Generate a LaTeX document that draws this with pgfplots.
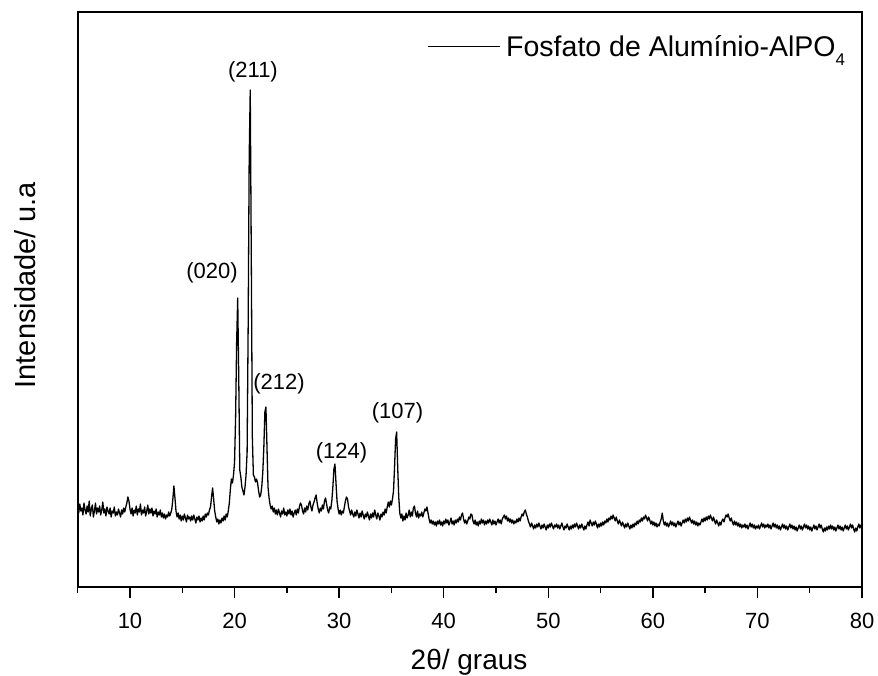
\documentclass[border=0pt]{standalone}
\usepackage{fontspec}
\setmainfont{Liberation Sans}
\usepackage{pgfplots}
\pgfplotsset{compat=1.18}
\usepackage{pgfplotstable}

% X-ray diffractogram of aluminium phosphate (2theta in degrees, intensity in arbitrary units)
\pgfplotstableread{
x y
5.0 80
5.1 74
5.2 83
5.3 76
5.4 79
5.5 72
5.6 84
5.7 77
5.8 73
5.9 81
6.0 75
6.1 86
6.2 71
6.3 78
6.4 82
6.5 70
6.6 76
6.7 84
6.8 73
6.9 79
7.0 75
7.1 81
7.2 72
7.3 77
7.4 85
7.5 74
7.6 78
7.7 71
7.8 80
7.9 76
8.0 73
8.1 79
8.2 70
8.3 76
8.4 74
8.5 80
8.6 71
8.7 75
8.8 72
8.9 78
9.0 74
9.1 70
9.2 77
9.3 73
9.4 79
9.5 75
9.6 80
9.7 84
9.8 90
9.9 86
10.0 78
10.1 73
10.2 79
10.3 71
10.4 77
10.5 74
10.6 81
10.7 72
10.8 78
10.9 75
11.0 83
11.1 72
11.2 77
11.3 74
11.4 80
11.5 71
11.6 76
11.7 82
11.8 73
11.9 78
12.0 74
12.1 79
12.2 71
12.3 76
12.4 73
12.5 78
12.6 70
12.7 75
12.8 72
12.9 77
13.0 70
13.1 74
13.2 69
13.3 73
13.4 68
13.5 72
13.6 70
13.7 75
13.8 71
13.9 74
14.0 78
14.1 88
14.2 101
14.3 89
14.4 76
14.5 70
14.6 74
14.7 68
14.8 72
14.9 66
15.0 71
15.1 67
15.2 73
15.3 69
15.4 65
15.5 72
15.6 68
15.7 70
15.8 66
15.9 71
16.0 67
16.1 72
16.2 68
16.3 64
16.4 70
16.5 67
16.6 71
16.7 65
16.8 69
16.9 66
17.0 71
17.1 67
17.2 73
17.3 70
17.4 74
17.5 72
17.6 77
17.7 80
17.8 90
17.9 99
18.0 88
18.1 76
18.2 70
18.3 65
18.4 68
18.5 63
18.6 67
18.7 64
18.8 69
18.9 66
19.0 71
19.1 67
19.2 73
19.3 70
19.4 76
19.5 84
19.6 98
19.7 108
19.8 104
19.9 112
20.0 125
20.1 170
20.2 245
20.3 289
20.4 210
20.5 117
20.6 110
20.7 100
20.8 96
20.9 92
21.0 100
21.1 112
21.2 135
21.3 260
21.4 430
21.5 497
21.6 330
21.7 150
21.8 112
21.9 110
22.0 105
22.1 108
22.2 104
22.3 96
22.4 90
22.5 92
22.6 100
22.7 115
22.8 140
22.9 175
23.0 180
23.1 140
23.2 100
23.3 89
23.4 82
23.5 78
23.6 81
23.7 75
23.8 79
23.9 73
24.0 77
24.1 72
24.2 78
24.3 74
24.4 70
24.5 76
24.6 73
24.7 79
24.8 72
24.9 75
25.0 71
25.1 77
25.2 73
25.3 78
25.4 72
25.5 76
25.6 70
25.7 74
25.8 77
25.9 72
26.0 78
26.1 74
26.2 80
26.3 84
26.4 82
26.5 76
26.6 73
26.7 79
26.8 75
26.9 81
27.0 77
27.1 83
27.2 86
27.3 80
27.4 76
27.5 82
27.6 85
27.7 89
27.8 92
27.9 84
28.0 78
28.1 74
28.2 79
28.3 76
28.4 82
28.5 78
28.6 86
28.7 89
28.8 83
28.9 77
29.0 74
29.1 80
29.2 78
29.3 86
29.4 100
29.5 118
29.6 123
29.7 104
29.8 86
29.9 78
30.0 73
30.1 77
30.2 72
30.3 76
30.4 74
30.5 80
30.6 86
30.7 90
30.8 88
30.9 80
31.0 76
31.1 72
31.2 77
31.3 73
31.4 70
31.5 75
31.6 71
31.7 77
31.8 73
31.9 69
32.0 74
32.1 70
32.2 76
32.3 72
32.4 68
32.5 73
32.6 70
32.7 75
32.8 71
32.9 67
33.0 73
33.1 69
33.2 74
33.3 70
33.4 77
33.5 72
33.6 68
33.7 74
33.8 71
33.9 67
34.0 73
34.1 70
34.2 75
34.3 72
34.4 78
34.5 74
34.6 80
34.7 85
34.8 80
34.9 86
35.0 82
35.1 88
35.2 96
35.3 120
35.4 148
35.5 155
35.6 120
35.7 90
35.8 74
35.9 69
36.0 73
36.1 66
36.2 71
36.3 67
36.4 74
36.5 69
36.6 72
36.7 77
36.8 70
36.9 75
37.0 71
37.1 79
37.2 81
37.3 74
37.4 70
37.5 76
37.6 69
37.7 73
37.8 71
37.9 75
38.0 70
38.1 74
38.2 78
38.3 76
38.4 80
38.5 74
38.6 68
38.7 64
38.8 67
38.9 63
39.0 66
39.1 62
39.2 65
39.3 61
39.4 66
39.5 63
39.6 67
39.7 62
39.8 65
39.9 61
40.0 66
40.1 63
40.2 68
40.3 64
40.4 67
40.5 62
40.6 65
40.7 69
40.8 63
40.9 66
41.0 62
41.1 67
41.2 64
41.3 68
41.4 65
41.5 70
41.6 67
41.7 72
41.8 74
41.9 68
42.0 64
42.1 67
42.2 63
42.3 66
42.4 70
42.5 68
42.6 73
42.7 72
42.8 66
42.9 63
43.0 67
43.1 62
43.2 65
43.3 61
43.4 66
43.5 63
43.6 68
43.7 64
43.8 67
43.9 62
44.0 66
44.1 63
44.2 67
44.3 64
44.4 68
44.5 65
44.6 62
44.7 67
44.8 63
44.9 66
45.0 62
45.1 65
45.2 68
45.3 64
45.4 67
45.5 63
45.6 68
45.7 70
45.8 72
45.9 68
46.0 71
46.1 66
46.2 69
46.3 65
46.4 68
46.5 64
46.6 67
46.7 63
46.8 66
46.9 64
47.0 68
47.1 65
47.2 69
47.3 66
47.4 70
47.5 73
47.6 71
47.7 75
47.8 77
47.9 73
48.0 70
48.1 66
48.2 63
48.3 60
48.4 64
48.5 61
48.6 58
48.7 62
48.8 59
48.9 63
49.0 60
49.1 64
49.2 61
49.3 58
49.4 62
49.5 59
49.6 63
49.7 60
49.8 57
49.9 62
50.0 59
50.1 63
50.2 60
50.3 64
50.4 61
50.5 58
50.6 62
50.7 60
50.8 63
50.9 59
51.0 62
51.1 58
51.2 61
51.3 64
51.4 60
51.5 57
51.6 61
51.7 59
51.8 63
51.9 60
52.0 57
52.1 61
52.2 58
52.3 62
52.4 59
52.5 63
52.6 60
52.7 64
52.8 61
52.9 58
53.0 62
53.1 59
53.2 63
53.3 60
53.4 57
53.5 61
53.6 58
53.7 62
53.8 65
53.9 61
54.0 67
54.1 64
54.2 61
54.3 65
54.4 62
54.5 66
54.6 63
54.7 59
54.8 63
54.9 60
55.0 64
55.1 61
55.2 65
55.3 62
55.4 66
55.5 64
55.6 68
55.7 65
55.8 69
55.9 67
56.0 71
56.1 68
56.2 72
56.3 69
56.4 66
56.5 70
56.6 66
56.7 63
56.8 67
56.9 64
57.0 61
57.1 65
57.2 62
57.3 59
57.4 63
57.5 60
57.6 64
57.7 61
57.8 58
57.9 62
58.0 59
58.1 63
58.2 60
58.3 64
58.4 62
58.5 66
58.6 63
58.7 67
58.8 65
58.9 69
59.0 66
59.1 70
59.2 68
59.3 72
59.4 69
59.5 66
59.6 70
59.7 67
59.8 63
59.9 66
60.0 62
60.1 65
60.2 61
60.3 64
60.4 60
60.5 63
60.6 61
60.7 65
60.8 68
60.9 74
61.0 66
61.1 62
61.2 65
61.3 61
61.4 64
61.5 60
61.6 63
61.7 66
61.8 62
61.9 65
62.0 61
62.1 64
62.2 60
62.3 63
62.4 66
62.5 62
62.6 65
62.7 61
62.8 64
62.9 67
63.0 64
63.1 68
63.2 65
63.3 69
63.4 66
63.5 70
63.6 67
63.7 64
63.8 67
63.9 63
64.0 66
64.1 62
64.2 65
64.3 61
64.4 64
64.5 62
64.6 65
64.7 68
64.8 65
64.9 69
65.0 66
65.1 70
65.2 67
65.3 71
65.4 68
65.5 72
65.6 69
65.7 66
65.8 70
65.9 66
66.0 63
66.1 67
66.2 64
66.3 61
66.4 65
66.5 62
66.6 66
66.7 68
66.8 65
66.9 69
67.0 72
67.1 70
67.2 73
67.3 69
67.4 66
67.5 69
67.6 65
67.7 62
67.8 66
67.9 62
68.0 65
68.1 61
68.2 64
68.3 60
68.4 63
68.5 59
68.6 62
68.7 60
68.8 63
68.9 59
69.0 62
69.1 58
69.2 61
69.3 64
69.4 60
69.5 63
69.6 59
69.7 62
69.8 58
69.9 61
70.0 59
70.1 62
70.2 58
70.3 61
70.4 64
70.5 60
70.6 63
70.7 59
70.8 62
70.9 60
71.0 63
71.1 59
71.2 62
71.3 58
71.4 61
71.5 64
71.6 60
71.7 63
71.8 59
71.9 62
72.0 58
72.1 61
72.2 57
72.3 60
72.4 63
72.5 59
72.6 62
72.7 58
72.8 61
72.9 57
73.0 60
73.1 63
73.2 59
73.3 62
73.4 58
73.5 61
73.6 57
73.7 60
73.8 56
73.9 59
74.0 62
74.1 58
74.2 61
74.3 57
74.4 60
74.5 63
74.6 59
74.7 62
74.8 58
74.9 61
75.0 57
75.1 60
75.2 56
75.3 59
75.4 62
75.5 58
75.6 61
75.7 57
75.8 60
75.9 63
76.0 59
76.1 62
76.2 58
76.3 55
76.4 59
76.5 56
76.6 60
76.7 57
76.8 61
76.9 58
77.0 62
77.1 58
77.2 61
77.3 57
77.4 60
77.5 56
77.6 59
77.7 62
77.8 58
77.9 61
78.0 57
78.1 60
78.2 56
78.3 59
78.4 62
78.5 58
78.6 61
78.7 57
78.8 60
78.9 63
79.0 59
79.1 62
79.2 58
79.3 55
79.4 59
79.5 56
79.6 60
79.7 63
79.8 59
79.9 62
80.0 60
}\xrdtable

\begin{document}
\begin{tikzpicture}
\useasboundingbox (0,0) rectangle (878pt,675pt);
\begin{axis}[
  at={(77.7pt,88pt)}, anchor=south west,
  width=784.3pt, height=575pt, scale only axis,
  xmin=5, xmax=80, ymin=0, ymax=575,
  xtick={10,20,...,80},
  minor xtick={5,15,...,75},
  ytick=\empty,
  xtick pos=bottom, tick align=outside,
  major tick length=11pt, minor tick length=6pt,
  every tick/.style={black, line width=1.4pt},
  axis line style={line width=1.6pt},
  /pgf/number format/assume math mode=true,
  xticklabel style={font=\fontsize{22}{22}\selectfont, inner sep=0pt, yshift=-15pt},
  xlabel={2θ/ graus},
  ylabel={Intensidade/ u.a},
  xlabel style={font=\fontsize{28}{28}\selectfont, at={(axis description cs:0.499,-0.144)}, anchor=base},
  ylabel style={font=\fontsize{29}{29}\selectfont, at={(axis description cs:-0.0544,0.525)}, anchor=base},
  legend style={draw=none, fill=none, at={(axis description cs:0.4454,0.9287)}, anchor=west,
    yshift=6pt, inner sep=0pt, font=\fontsize{28.5}{28.5}\selectfont},
  legend image code/.code={\draw[black, line width=1pt] (0pt,0pt) -- (72pt,0pt);},
  legend cell align=left,
]
\addplot[black, line width=1.3pt, line join=round] table[x=x, y=y] {\xrdtable};
\addlegendentry{\hspace{4pt}Fosfato de Alumínio-AlPO\raisebox{-0.32em}{\fontsize{17}{17}\selectfont 4}}

\begin{scope}[every node/.style={font=\fontsize{22}{22}\selectfont, inner sep=0pt}]
\node at (axis cs:21.76,515) {(211)};
\node at (axis cs:17.84,314.5) {(020)};
\node at (axis cs:24.25,203.5) {(212)};
\node at (axis cs:30.23,134.5) {(124)};
\node at (axis cs:35.58,174) {(107)};
\end{scope}
\end{axis}
\end{tikzpicture}
\end{document}
